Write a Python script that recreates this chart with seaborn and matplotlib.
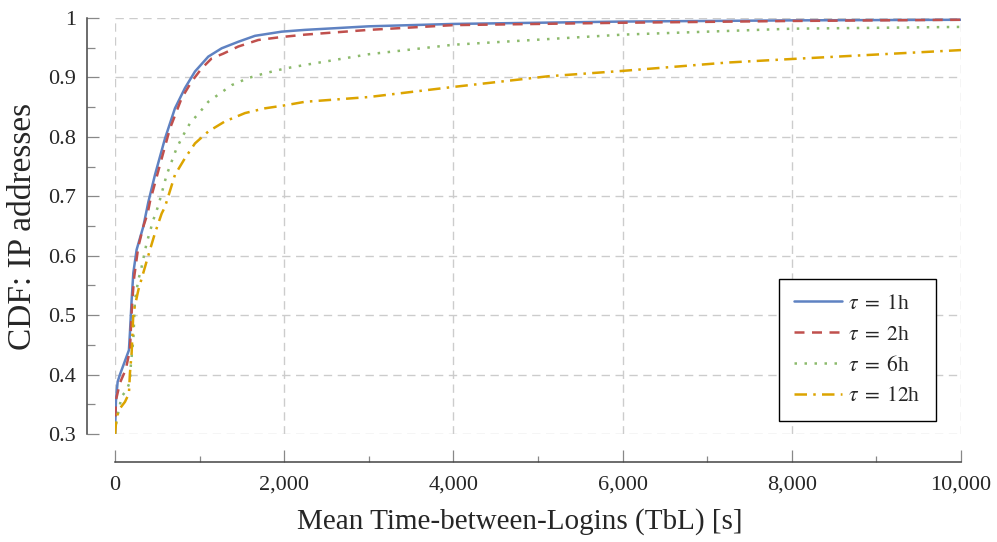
import matplotlib
matplotlib.use("Agg")
import matplotlib.pyplot as plt
import matplotlib.ticker as mticker
import seaborn as sns

# CDF curves
x_1h = [0, 12, 32, 59, 165, 177, 197, 217, 256, 335, 394, 473, 591, 709, 827, 946,
        1103, 1261, 1458, 1655, 1970, 2246, 3000, 4000, 6000, 8000, 10000]
y_1h = [0.30, 0.357, 0.388, 0.40, 0.441, 0.47, 0.525, 0.571, 0.61, 0.649, 0.69, 0.736,
        0.797, 0.848, 0.882, 0.910, 0.935, 0.949, 0.960, 0.970, 0.977, 0.980, 0.986,
        0.990, 0.994, 0.996, 0.997]

x_2h = [0, 12, 59, 126, 177, 189, 205, 228, 276, 335, 386, 414, 532, 650, 788, 906,
        1024, 1143, 1280, 1458, 1694, 1970, 2246, 3000, 4000, 6000, 8000, 10000]
y_2h = [0.30, 0.357, 0.386, 0.408, 0.441, 0.48, 0.525, 0.565, 0.615, 0.649, 0.671,
        0.691, 0.753, 0.814, 0.865, 0.893, 0.915, 0.932, 0.940, 0.952, 0.963, 0.968,
        0.972, 0.980, 0.988, 0.992, 0.995, 0.997]

x_6h = [0, 20, 79, 138, 177, 189, 217, 236, 276, 315, 374, 453, 512, 611, 729, 808,
        887, 1005, 1103, 1241, 1379, 1576, 1773, 2009, 2246, 3000, 4000, 6000, 8000, 10000]
y_6h = [0.30, 0.324, 0.363, 0.374, 0.388, 0.419, 0.458, 0.525, 0.559, 0.581, 0.621,
        0.66, 0.684, 0.736, 0.781, 0.803, 0.823, 0.842, 0.859, 0.873, 0.887, 0.899,
        0.907, 0.915, 0.921, 0.939, 0.955, 0.972, 0.982, 0.985]

x_12h = [0, 20, 59, 118, 165, 177, 197, 217, 276, 355, 414, 473, 552, 591, 709, 827,
         946, 1103, 1300, 1537, 1773, 2009, 2246, 3000, 4000, 5124, 6000, 7235, 8000, 10000]
y_12h = [0.30, 0.329, 0.343, 0.354, 0.368, 0.402, 0.436, 0.503, 0.542, 0.581, 0.61,
         0.638, 0.671, 0.682, 0.736, 0.764, 0.789, 0.809, 0.826, 0.84, 0.848, 0.853,
         0.859, 0.867, 0.884, 0.902, 0.911, 0.925, 0.931, 0.946]

labels = [r"$\tau\;=\;1$h", r"$\tau\;=\;2$h", r"$\tau\;=\;6$h", r"$\tau\;=\;12$h"]

sns.set_style("white")
plt.rcParams["font.family"] = ["Liberation Serif", "DejaVu Serif"]
plt.rcParams["mathtext.fontset"] = "stix"

fig = plt.figure(figsize=(9.97, 5.42), dpi=100)
ax = fig.add_axes([0.1153, 0.1993, 0.8486, 0.7675])

sns.lineplot(x=x_1h, y=y_1h, ax=ax, color="#5f82c2", lw=1.8, label=labels[0])
sns.lineplot(x=x_2h, y=y_2h, ax=ax, color="#c0504d", lw=1.8, ls=(0, (4, 3)), label=labels[1])
sns.lineplot(x=x_6h, y=y_6h, ax=ax, color="#8cba6c", lw=1.8, ls=(0, (1, 3)), label=labels[2])
sns.lineplot(x=x_12h, y=y_12h, ax=ax, color="#dca400", lw=1.8,
             ls=(0, (5, 2.5, 1, 2.5)), label=labels[3])

ax.set_xlim(0, 10000)
ax.set_ylim(0.3, 1.0)
ax.set_xticks(range(0, 10001, 2000))
ax.xaxis.set_minor_locator(mticker.MultipleLocator(1000))
ax.set_yticks([0.3, 0.4, 0.5, 0.6, 0.7, 0.8, 0.9, 1.0])
ax.yaxis.set_minor_locator(mticker.MultipleLocator(0.05))
ax.xaxis.set_major_formatter(mticker.FuncFormatter(lambda v, p: f"{int(v):,}"))
ax.yaxis.set_major_formatter(mticker.FuncFormatter(lambda v, p: f"{v:g}"))

ax.grid(True, which="major", color="#cccccc", ls=(0, (6, 4)), lw=1)
ax.grid(False, which="minor")
for s in ["top", "right"]:
    ax.spines[s].set_visible(False)
ax.spines["bottom"].set_position(("outward", 20))
ax.spines["left"].set_position(("outward", 20))
for s in ["bottom", "left"]:
    ax.spines[s].set_color("#444444")
    ax.spines[s].set_linewidth(1.1)
ax.tick_params(axis="both", which="both", bottom=True, left=True, direction="in",
               color="#888888", width=0.9)
ax.tick_params(axis="x", which="major", length=8.5, labelsize=16, pad=10)
ax.tick_params(axis="x", which="minor", length=4.5)
ax.tick_params(axis="y", which="major", length=8.5, labelsize=16, pad=8)
ax.tick_params(axis="y", which="minor", length=5.5)

ax.set_xlabel("Mean Time-between-Logins (TbL) [s]", fontsize=21, labelpad=6)
ax.xaxis.set_label_coords(0.478, -0.178)
ax.set_ylabel("CDF: IP addresses", fontsize=24, labelpad=7)

leg = ax.legend(loc="lower right", bbox_to_anchor=(0.97, 0.03), borderaxespad=0,
                fontsize=15.5, fancybox=False, edgecolor="black", framealpha=1,
                handlelength=2.2, handletextpad=0.3, labelspacing=0.5,
                borderpad=0.7)
leg.get_frame().set_linewidth(1.0)

fig.savefig("out.png", dpi=100)
